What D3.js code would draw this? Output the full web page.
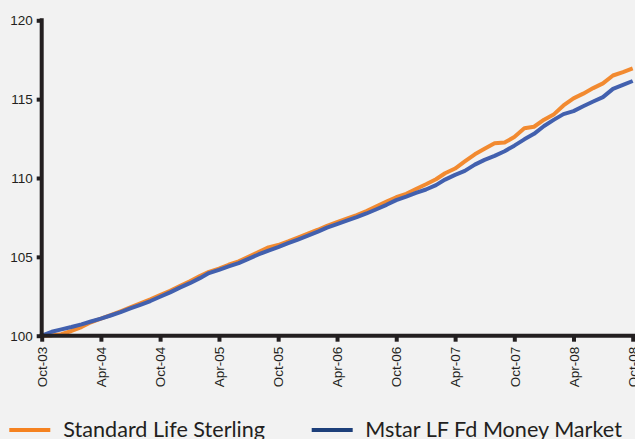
<!DOCTYPE html>
<html>
<head>
<meta charset="utf-8">
<script src="https://cdn.jsdelivr.net/npm/d3@7"></script>
<style>
  html, body { margin: 0; padding: 0; background: #f2f2f2; }
  svg { display: block; font-family: Lato, "Open Sans", sans-serif; }
</style>
</head>
<body>
<svg id="canvas" width="635" height="439"></svg>
<script>
// monthly index values, Oct-03 .. Oct-08
let months = d3.range(61).map((i) => new Date(2003, 9 + i, 1));

let standardLife = [
  100.0, 100.02, 100.1, 100.3, 100.55, 100.85, 101.08, 101.3, 101.55, 101.8,
  102.05, 102.3, 102.58, 102.85, 103.15, 103.45, 103.78, 104.05, 104.25, 104.5,
  104.72, 105.0, 105.3, 105.6, 105.75, 105.98, 106.22, 106.47, 106.72, 106.97,
  107.2, 107.42, 107.65, 107.9, 108.2, 108.5, 108.78, 109.0, 109.3, 109.6,
  109.92, 110.3, 110.6, 111.05, 111.5, 111.85, 112.2, 112.25, 112.6, 113.15,
  113.25, 113.7, 114.05, 114.6, 115.05, 115.35, 115.7, 116.0, 116.5, 116.72,
  116.95,
];

let mstarMoneyMarket = [
  100.0, 100.25, 100.4, 100.55, 100.72, 100.9, 101.08, 101.28, 101.5, 101.73,
  101.96, 102.2, 102.47, 102.75, 103.05, 103.33, 103.65, 103.97, 104.18, 104.4,
  104.6, 104.87, 105.15, 105.4, 105.62, 105.87, 106.1, 106.35, 106.6, 106.85,
  107.08, 107.3, 107.52, 107.75, 108.02, 108.3, 108.6, 108.82, 109.05, 109.27,
  109.55, 109.9, 110.2, 110.45, 110.85, 111.15, 111.4, 111.7, 112.05, 112.45,
  112.8, 113.3, 113.7, 114.05, 114.24, 114.55, 114.85, 115.13, 115.65, 115.9,
  116.15,
];

let yTicks = [100, 105, 110, 115, 120];
let xTicks = d3.range(0, 61, 6).map((i) => months[i]);

let seriesNames = ["Standard Life Sterling", "Mstar LF Fd Money Market"];
let lineColors = ["#f28a30", "#4260ae"];
let keyColors = ["#f58220", "#1d3f7a"];

let canvas = d3.select("#canvas");
let axisColor = "#231f20";

let x = d3.scaleTime().domain([months[0], months[60]]).range([41.7, 632.7]);
let y = d3.scaleLinear().domain([100, 120]).range([335.7, 20.3]);

// lines
let line = d3.line()
  .x((d, i) => x(months[i]))
  .y((d) => y(d));

[standardLife, mstarMoneyMarket].forEach((series, k) => {
  canvas.append("path")
    .datum(series)
    .attr("d", line)
    .attr("fill", "none")
    .attr("stroke", lineColors[k])
    .attr("stroke-width", 4)
    .attr("stroke-linejoin", "round");
});

// y axis
let yAxis = canvas.append("g")
  .attr("transform", "translate(41.7,0)")
  .call(d3.axisLeft(y).tickValues(yTicks).tickSize(5).tickPadding(4).tickFormat(d3.format("d")));
yAxis.select(".domain").remove();
yAxis.selectAll(".tick line").attr("stroke", axisColor).attr("stroke-width", 4);
yAxis.selectAll(".tick text")
  .attr("fill", axisColor)
  .style("font-size", "13.5px");
canvas.append("line")
  .attr("x1", 41.7).attr("x2", 41.7)
  .attr("y1", 18.3).attr("y2", 337.7)
  .attr("stroke", axisColor).attr("stroke-width", 4);

// x axis
let xAxis = canvas.append("g")
  .attr("transform", "translate(0,335.7)")
  .call(d3.axisBottom(x).tickValues(xTicks).tickSize(6).tickFormat(d3.timeFormat("%b-%y")));
xAxis.select(".domain").remove();
xAxis.selectAll(".tick line").attr("stroke", axisColor).attr("stroke-width", 4);
xAxis.selectAll(".tick text")
  .attr("fill", axisColor)
  .style("font-size", "13.5px")
  .attr("text-anchor", "end")
  .attr("transform", "rotate(-90)")
  .attr("x", -11)
  .attr("y", 0)
  .attr("dy", "0.35em");
canvas.append("line")
  .attr("x1", 39.7).attr("x2", 635)
  .attr("y1", 335.7).attr("y2", 335.7)
  .attr("stroke", axisColor).attr("stroke-width", 4);

// legend
let legendX = [9.3, 311.7];
seriesNames.forEach((name, k) => {
  let lg = canvas.append("g").attr("transform", `translate(${legendX[k]},430)`);
  lg.append("line")
    .attr("x1", 0).attr("x2", 41)
    .attr("stroke", keyColors[k]).attr("stroke-width", 4);
  lg.append("text")
    .attr("x", k == 0 ? 54 : 53.5)
    .attr("y", 6.8)
    .attr("fill", axisColor)
    .style("font-size", "21.6px")
    .text(name);
});
</script>
</body>
</html>
